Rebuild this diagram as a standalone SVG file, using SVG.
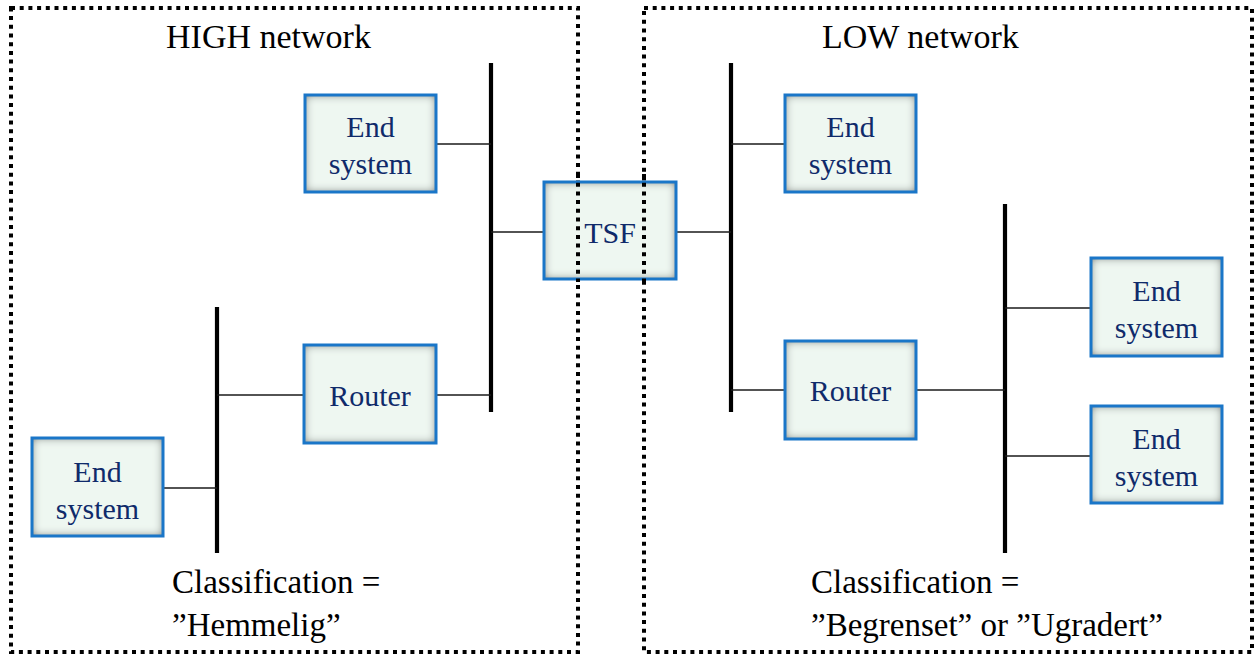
<svg xmlns="http://www.w3.org/2000/svg" width="1255" height="656" viewBox="0 0 1255 656">
  <style>
    text { font-family: "Liberation Serif", "DejaVu Serif", "Times New Roman", Times, serif; }
    .zone { fill: none; stroke: #000; stroke-width: 4; stroke-dasharray: 4 4.7; }
    .bus { stroke: #000; stroke-width: 4.2; }
    .link { stroke: #1a1a1a; stroke-width: 1.6; }
    .body { fill: #eef7f1; filter: url(#inset); }
    .frame { fill: none; stroke: #1a76c8; stroke-width: 3; }
    .label { font-size: 30px; fill: #0f2a6a; text-anchor: middle; }
    .title { font-size: 34px; fill: #000; }
    .note { font-size: 33px; fill: #000; }
  </style>
  <defs>
    <!-- soft grey shading along the inner edges of each box -->
    <filter id="inset" x="-10%" y="-10%" width="120%" height="120%">
      <feFlood flood-color="#333" result="ink"/>
      <feComposite in="ink" in2="SourceAlpha" operator="out" result="ring"/>
      <feGaussianBlur in="ring" stdDeviation="5" result="soft"/>
      <feComposite in="soft" in2="SourceAlpha" operator="in" result="shade"/>
      <feMerge>
        <feMergeNode in="SourceGraphic"/>
        <feMergeNode in="shade"/>
      </feMerge>
    </filter>
  </defs>

  <rect width="1255" height="656" fill="#fff"/>

  <!-- network zones -->
  <g id="zone-high">
    <rect class="zone" x="11" y="8" width="567" height="644"/>
    <text class="title" x="166" y="48">HIGH network</text>
    <text class="note" x="172" y="593">Classification =</text>
    <text class="note" x="172" y="636">”Hemmelig”</text>
  </g>
  <g id="zone-low">
    <rect class="zone" x="644" y="8" width="608" height="644"/>
    <text class="title" x="822" y="48">LOW network</text>
    <text class="note" x="811" y="593">Classification =</text>
    <text class="note" x="811" y="636">”Begrenset” or ”Ugradert”</text>
  </g>

  <!-- buses and links -->
  <g id="connectors">
    <line class="bus" x1="491" y1="63" x2="491" y2="412"/>
    <line class="bus" x1="217" y1="307" x2="217" y2="553"/>
    <line class="bus" x1="731" y1="63" x2="731" y2="412"/>
    <line class="bus" x1="1005" y1="204" x2="1005" y2="553"/>

    <line class="link" x1="436" y1="144" x2="491" y2="144"/>
    <line class="link" x1="491" y1="232" x2="544" y2="232"/>
    <line class="link" x1="436" y1="395" x2="491" y2="395"/>
    <line class="link" x1="217" y1="395" x2="304" y2="395"/>
    <line class="link" x1="163" y1="488" x2="217" y2="488"/>
    <line class="link" x1="676" y1="232" x2="731" y2="232"/>
    <line class="link" x1="731" y1="144" x2="785" y2="144"/>
    <line class="link" x1="731" y1="390" x2="785" y2="390"/>
    <line class="link" x1="917" y1="390" x2="1005" y2="390"/>
    <line class="link" x1="1005" y1="308" x2="1091" y2="308"/>
    <line class="link" x1="1005" y1="456" x2="1091" y2="456"/>
  </g>

  <!-- nodes -->
  <g id="high-end-system-1">
    <rect class="body" x="305" y="95" width="131" height="97"/>
    <rect class="frame" x="305" y="95" width="131" height="97"/>
    <text class="label" x="370.5" y="137">End</text>
    <text class="label" x="370.5" y="174">system</text>
  </g>
  <g id="high-router">
    <rect class="body" x="304" y="345" width="132" height="98"/>
    <rect class="frame" x="304" y="345" width="132" height="98"/>
    <text class="label" x="370" y="406">Router</text>
  </g>
  <g id="high-end-system-2">
    <rect class="body" x="32" y="438" width="131" height="98"/>
    <rect class="frame" x="32" y="438" width="131" height="98"/>
    <text class="label" x="97.5" y="482">End</text>
    <text class="label" x="97.5" y="519">system</text>
  </g>
  <g id="tsf">
    <rect class="body" x="544" y="182" width="132" height="97"/>
    <rect class="frame" x="544" y="182" width="132" height="97"/>
    <text class="label" x="610" y="243">TSF</text>
  </g>
  <g id="low-end-system-1">
    <rect class="body" x="785" y="95" width="131" height="97"/>
    <rect class="frame" x="785" y="95" width="131" height="97"/>
    <text class="label" x="850.5" y="137">End</text>
    <text class="label" x="850.5" y="174">system</text>
  </g>
  <g id="low-router">
    <rect class="body" x="785" y="341" width="131" height="98"/>
    <rect class="frame" x="785" y="341" width="131" height="98"/>
    <text class="label" x="850.5" y="401">Router</text>
  </g>
  <g id="low-end-system-2">
    <rect class="body" x="1091" y="258" width="131" height="98"/>
    <rect class="frame" x="1091" y="258" width="131" height="98"/>
    <text class="label" x="1156.5" y="301">End</text>
    <text class="label" x="1156.5" y="338">system</text>
  </g>
  <g id="low-end-system-3">
    <rect class="body" x="1091" y="406" width="131" height="97"/>
    <rect class="frame" x="1091" y="406" width="131" height="97"/>
    <text class="label" x="1156.5" y="449">End</text>
    <text class="label" x="1156.5" y="486">system</text>
  </g>

  <!-- zone borders pass over the TSF box -->
  <g id="zone-borders-over-tsf">
    <line class="zone" x1="578" y1="174" x2="578" y2="282"/>
    <line class="zone" x1="644" y1="174" x2="644" y2="282"/>
  </g>
</svg>
